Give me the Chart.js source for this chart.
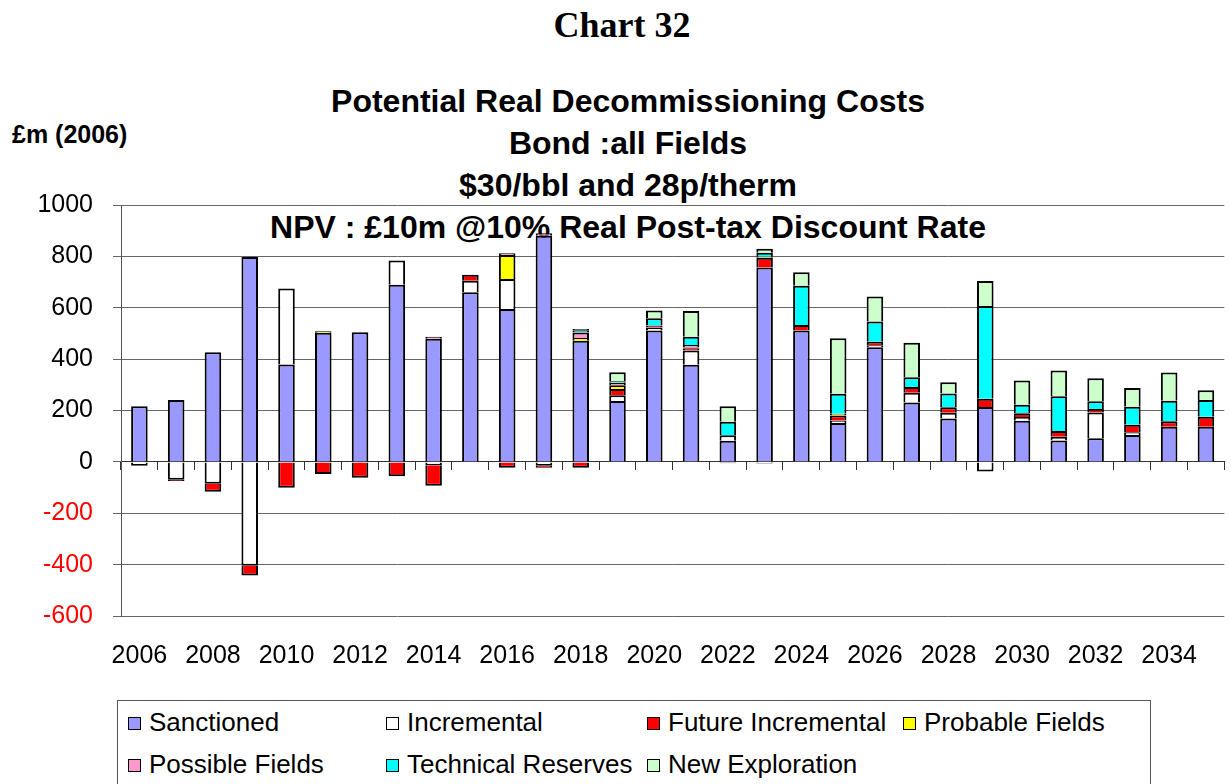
<!DOCTYPE html>
<html>
<head>
<meta charset="utf-8">
<script src="https://cdn.jsdelivr.net/npm/chart.js@4.4.1/dist/chart.umd.min.js"></script>
<style>
  html, body { margin: 0; padding: 0; background: #fff; overflow: hidden; }
  body { width: 1231px; height: 784px; position: relative; font-family: "Liberation Sans", Arial, sans-serif; }
  #chartNo { position: absolute; left: 122px; top: 0; width: 1000px; text-align: center;
    font: bold 36px "Liberation Serif", "Times New Roman", serif; line-height: 50px; }
  #titles { position: absolute; left: 128px; top: 80px; width: 1000px; text-align: center;
    font-weight: bold; font-size: 32px; line-height: 42px; }
  #unit { position: absolute; left: 12px; top: 120px; font-weight: bold; font-size: 25px; }
  #wrap { position: absolute; left: 0; top: 0; }
  #legend { position: absolute; left: 117px; top: 700px; width: 1034px; height: 110px;
    border: 1px solid #555; box-sizing: border-box; background: #fff;
    display: grid; grid-template-columns: 258px 261px 256px auto; grid-auto-rows: 42px;
    padding: 0 0 0 10px; font-size: 26px; }
  #legend span.item { white-space: nowrap; display: flex; align-items: center; }
  #legend i { display: inline-block; width: 11px; height: 11px; border: 1.5px solid #000;
    margin-right: 8px; margin-top: 3px; }
</style>
</head>
<body>
<div id="chartNo">Chart 32</div>
<div id="titles">Potential Real Decommissioning Costs<br>Bond :all Fields<br>$30/bbl and 28p/therm<br>NPV : £10m @10% Real Post-tax Discount Rate</div>
<div id="unit">£m (2006)</div>
<div id="wrap"><canvas id="DecomChart" width="1231" height="784"></canvas></div>
<div id="legend"></div>
<script>
var years = [2006, 2007, 2008, 2009, 2010, 2011, 2012, 2013, 2014, 2015,
             2016, 2017, 2018, 2019, 2020, 2021, 2022, 2023, 2024, 2025,
             2026, 2027, 2028, 2029, 2030, 2031, 2032, 2033, 2034, 2035];

var sanctioned = [217, 241, 427, 798, 379, 503, 505, 690, 479, 660,
                  595, 880, 472, 237, 511, 378, 82, 757, 511, 151,
                  446, 231, 169, 214, 160, 83, 92, 105, 137, 137];
var incremental = [-15, -70, -85, -404, 296, null, null, 94, -13, 45,
                   117, -15, null, 22, 12, 56, 22, -6, null, 10,
                   8, 38, 22, -37, 15, 15, 100, 10, null, null];
var futureIncremental = [null, -4, -31, -38, -101, -47, -62, -56, -80, 23,
                         -23, -8, -23, 25, 8, 8, -5, 38, 22, 20,
                         14, 22, 22, 32, 14, 22, 14, 30, 21, 39];
var probable = [null, null, null, null, null, 6, null, null, null, null,
                93, null, 10, 14, null, 3, null, 4, null, 6,
                null, null, null, null, null, null, null, null, null, null];
var possible = [null, null, null, null, null, null, null, null, 8, null,
                7, 10, 22, 10, null, 10, null, null, null, null,
                null, null, null, null, null, null, null, null, null, null];
var technical = [null, null, null, null, null, null, null, null, null, null,
                 null, null, 8, 6, 28, 32, 52, 15, 153, 78,
                 78, 38, 53, 361, 33, 135, 30, 70, 80, 65];
var newExploration = [null, null, null, null, null, null, null, null, null, null,
                      null, null, 5, 35, 30, 100, 61, 16, 52, 216,
                      98, 135, 44, 97, 95, 101, 90, 73, 110, 38];

var seriesNames = ["Sanctioned", "Incremental", "Future Incremental", "Probable Fields",
                   "Possible Fields", "Technical Reserves", "New Exploration"];
var seriesColours = ["#9999FF", "#FFFFFF", "#FF0000", "#FFFF00", "#FF99CC", "#00FFFF", "#CCFFCC"];
var seriesValues = [sanctioned, incremental, futureIncremental, probable, possible, technical, newExploration];

var yTicks = [-600, -400, -200, 0, 200, 400, 600, 800, 1000];

(function () {
    var datasets = seriesValues.map(function (vals, i) {
        return {
            label: seriesNames[i],
            data: vals,
            backgroundColor: seriesColours[i],
            borderColor: "#000",
            borderWidth: 2,
            barPercentage: 0.45,
            categoryPercentage: 1
        };
    });

    // HTML legend, built from the same series lists
    var legend = document.getElementById("legend");
    seriesNames.forEach(function (name, i) {
        var s = document.createElement("span");
        s.className = "item";
        s.innerHTML = '<i style="background:' + seriesColours[i] + '"></i>' + name;
        legend.appendChild(s);
    });

    var tickFont = { family: "Liberation Sans", size: 25 };

    new Chart(document.getElementById("DecomChart"), {
        type: "bar",
        data: { labels: years, datasets: datasets },
        options: {
            responsive: false,
            animation: false,
            devicePixelRatio: 1,
            layout: { padding: { top: 205, right: 4, left: 0, bottom: 110 } },
            plugins: { legend: { display: false }, tooltip: { enabled: false } },
            scales: {
                x: {
                    stacked: true,
                    grid: { display: false, drawTicks: false },
                    border: { display: false },
                    ticks: {
                        autoSkip: false, maxRotation: 0, padding: 25,
                        color: "#000", font: tickFont,
                        callback: function (v, i) { return i % 2 === 0 ? String(years[i]) : ""; }
                    },
                    afterFit: function (s) { s.height = 58; }
                },
                xz: {
                    type: "category",
                    labels: years,
                    position: { y: 0 },
                    offset: true,
                    grid: { drawOnChartArea: false, drawTicks: true, tickLength: 8, color: "#333", offset: true },
                    border: { display: true, color: "#333", width: 1 },
                    ticks: { display: false }
                },
                y: {
                    stacked: true,
                    min: -600, max: 1000,
                    afterBuildTicks: function (s) { s.ticks = yTicks.map(function (v) { return { value: v }; }); },
                    grid: { color: "#666", tickLength: 8, lineWidth: 1 },
                    border: { color: "#555", width: 1 },
                    ticks: {
                        padding: 20, font: tickFont,
                        callback: function (v) { return String(v); },
                        color: function (c) { return c.tick.value < 0 ? "#FF0000" : "#000"; }
                    },
                    afterFit: function (s) { s.width = 121; }
                }
            }
        }
    });
})();
</script>
</body>
</html>
